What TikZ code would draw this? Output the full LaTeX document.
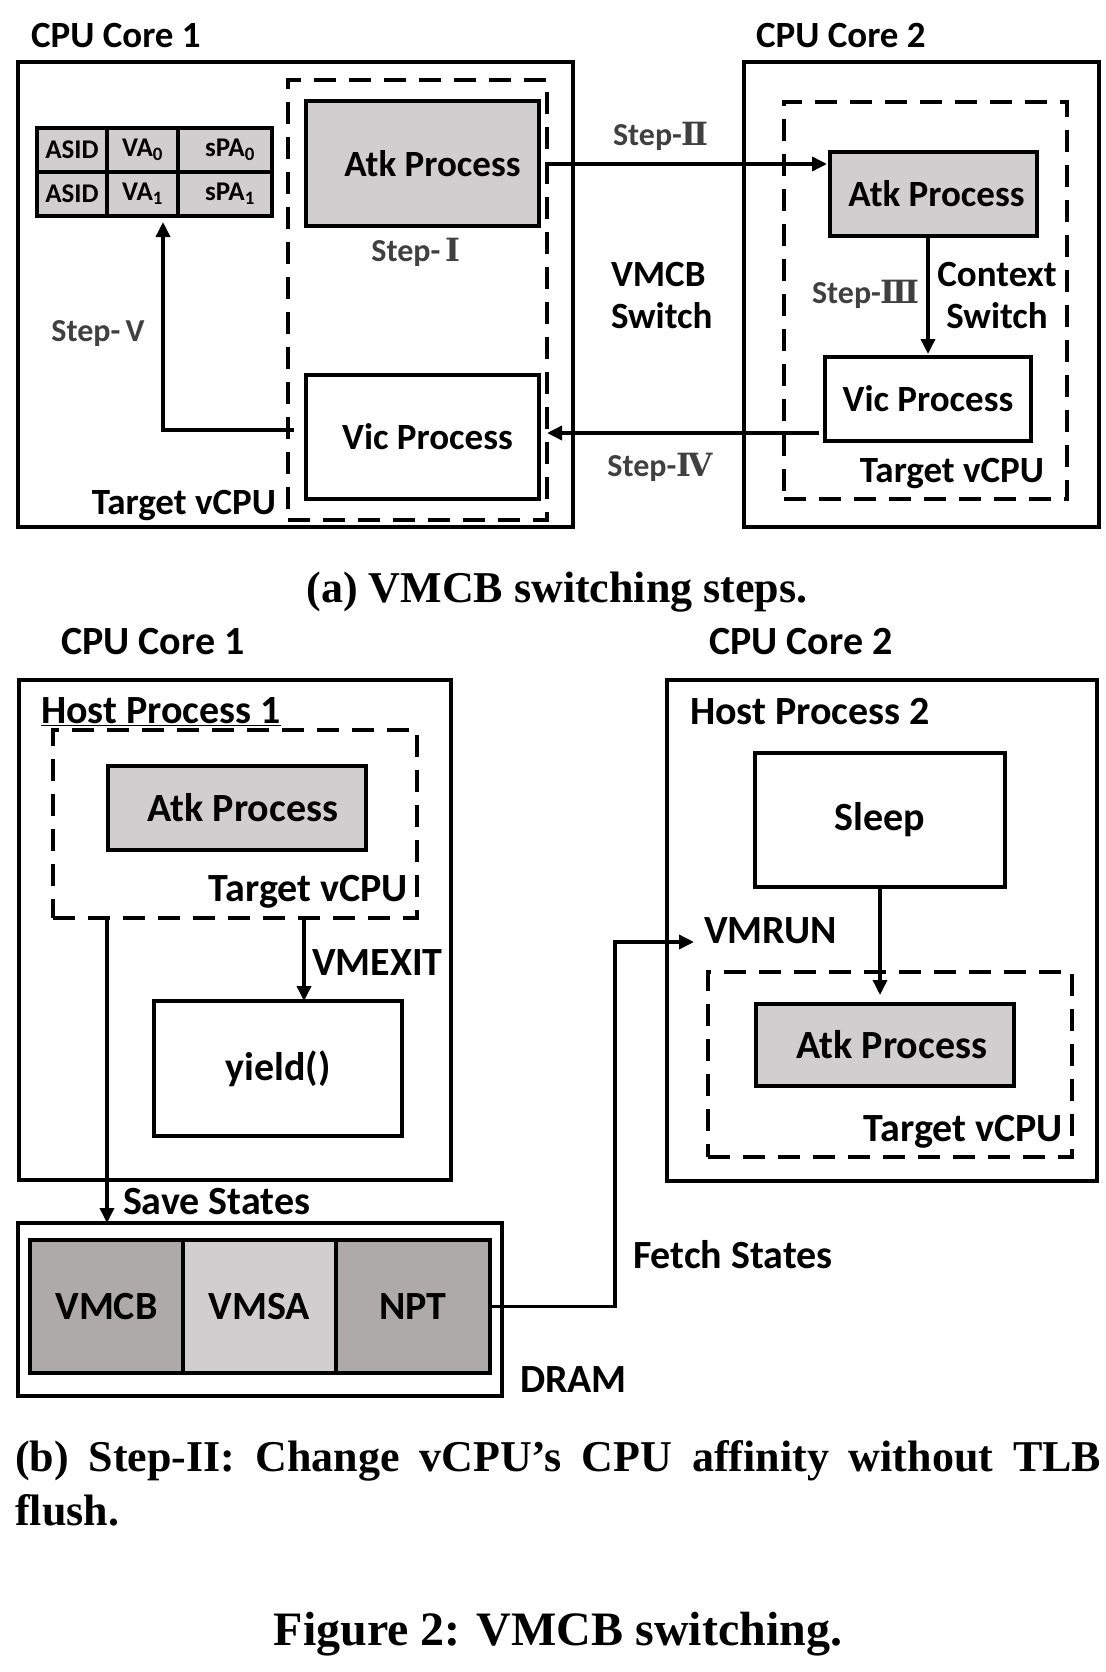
\documentclass[tikz,border=0pt]{standalone}
\usepackage{fontspec}
\usetikzlibrary{arrows.meta}
\newfontfamily\calfont{Carlito}
\newfontfamily\capfont{Liberation Serif}
\newfontfamily\romfont{DejaVu Serif}
\definecolor{lgray}{HTML}{D0CECE}
\definecolor{dgray}{HTML}{AEAAAA}
\definecolor{stepgray}{HTML}{404040}
\newcommand\szA{\fontsize{37}{42}\selectfont}
\newcommand\szB{\fontsize{40}{44}\selectfont}
\newcommand\szT{\fontsize{27}{30}\selectfont}
\newcommand\szS{\fontsize{32}{36}\selectfont}
\newcommand\bx[6][]{\node[box,#1,minimum width={#5-#3},minimum height={#6-#4}] (#2) at ({(#3+#5)/2},{(#4+#6)/2})}
\begin{document}
\begin{tikzpicture}[x=1pt,y=-1pt,
  box/.style={draw, line width=4pt, inner sep=0pt, outer sep=0pt, font=\calfont\bfseries\szA},
  dbox/.style={dash pattern=on 22pt off 13pt},
  lbl/.style={inner sep=0pt, outer sep=0pt, font=\calfont\bfseries\szA},
  lblB/.style={lbl, font=\calfont\bfseries\szB},
  stp/.style={inner sep=0pt, text=stepgray, font=\calfont\bfseries\szS},
  arr/.style={line width=3.5pt, -{Triangle[length=15pt,width=14pt]}},
  captext/.style={inner sep=0pt, font=\capfont\bfseries\fontsize{44}{54}\selectfont}]
\useasboundingbox[fill=white] (0,0) rectangle (1105,1672);

% ---------------- (a) ----------------
\node[lbl, anchor=base west] (tcA1) at (31,48) {CPU Core 1};
\node[lbl, anchor=base west] (tcA2) at (756,48) {CPU Core 2};

\bx{coreA1}{18}{62}{573}{527} {};
\bx[dbox]{vcpuA1}{288}{80}{547}{520} {};
\bx[fill=lgray]{atkA1}{306}{101}{539}{226} {\hspace*{20pt}Atk Process};
\bx{vicA1}{306}{375}{539}{499} {\hspace*{10pt}Vic Process};

\bx[fill=lgray,font=\calfont\bfseries\szT]{tlb11}{37}{128}{107}{172} {ASID};
\bx[fill=lgray,font=\calfont\bfseries\szT]{tlb12}{107}{128}{178}{172} {VA\textsubscript{0}};
\bx[fill=lgray,font=\calfont\bfseries\szT]{tlb13}{178}{128}{272}{172} {\hspace*{10pt}sPA\textsubscript{0}};
\bx[fill=lgray,font=\calfont\bfseries\szT]{tlb21}{37}{172}{107}{216} {ASID};
\bx[fill=lgray,font=\calfont\bfseries\szT]{tlb22}{107}{172}{178}{216} {VA\textsubscript{1}};
\bx[fill=lgray,font=\calfont\bfseries\szT]{tlb23}{178}{172}{272}{216} {\hspace*{10pt}sPA\textsubscript{1}};

\bx{coreA2}{744}{62}{1099}{527} {};
\bx[dbox]{vcpuA2}{784}{102}{1067}{499} {};
\bx[fill=lgray]{atkA2}{830}{152}{1037}{236} {\hspace*{6pt}Atk Process};
\bx{vicA2}{825}{357}{1031}{441} {Vic Process};

\node[stp] (s1l) at (416,252) {Step-\,{\romfont Ⅰ}};
\node[stp] (s2l) at (661,136) {Step-{\romfont Ⅱ}};
\node[stp] (s3l) at (866,294) {Step-{\romfont Ⅲ}};
\node[stp] (s4l) at (660,467) {Step-{\romfont Ⅳ}};
\node[stp] (s5l) at (98,334) {Step-\,V};
\node[lbl, anchor=west, align=left] (vmsw) at (611,296) {VMCB\\Switch};
\node[lbl, align=center] (ctxsw) at (997,296) {Context\\Switch};
\node[lbl, anchor=base east] (tvA1) at (276,514) {Target vCPU};
\node[lbl, anchor=base] (tvA2) at (952,482) {Target vCPU};

\coordinate (s2a) at (547,164);
\draw[arr, shorten >=3pt] (s2a) -- (s2a -| atkA2.west);
\coordinate (s4a) at (819,433);
\coordinate (s4b) at (547,433);
\draw[arr] (s4a) -- (s4b);
\draw[arr, shorten >=3pt] (atkA2.south -| vicA2.north) -- (vicA2.north);
\coordinate (s5a) at (294,430);
\coordinate (s5b) at (163,222);
\draw[arr] (s5a) -| (s5b);

\node[captext, anchor=base] (capA) at (557,602) {(a) VMCB switching steps.};

% ---------------- (b) ----------------
\node[lblB, anchor=base west] (tcB1) at (61,654) {CPU Core 1};
\node[lblB, anchor=base west] (tcB2) at (709,654) {CPU Core 2};

\bx{coreB1}{19}{680}{451}{1180} {};
\node[lblB, anchor=base west] (hp1) at (41,723) {\underline{Host Process 1}};
\bx[dbox]{vcpuB1}{53}{730}{417}{918} {};
\bx[fill=lgray,font=\calfont\bfseries\szB]{atkB1}{108}{766}{366}{850} {\hspace*{12pt}Atk Process};
\node[lblB, anchor=base east] (tvB1) at (408,901) {Target vCPU};
\bx[font=\calfont\bfseries\szB]{yieldB}{154}{1001}{402}{1136} {yield()};

\bx{dramB}{18}{1223}{502}{1396} {};
\bx[fill=dgray,font=\calfont\bfseries\szB]{vmcbB}{30}{1240}{183}{1373} {VMCB};
\bx[fill=lgray,font=\calfont\bfseries\szB]{vmsaB}{183}{1240}{336}{1373} {VMSA};
\bx[fill=dgray,font=\calfont\bfseries\szB]{nptB}{336}{1240}{490}{1373} {NPT};
\node[lblB, anchor=base west] (dramL) at (520,1392) {DRAM};

\bx{coreB2}{667}{680}{1097}{1181} {};
\node[lblB, anchor=base west] (hp2) at (690,724) {Host Process 2};
\bx[font=\calfont\bfseries\szB]{sleepB}{755}{753}{1005}{887} {Sleep};
\bx[dbox]{vcpuB2}{708}{972}{1072}{1157} {};
\bx[fill=lgray,font=\calfont\bfseries\szB]{atkB2}{756}{1004}{1014}{1086} {\hspace*{14pt}Atk Process};
\node[lblB, anchor=base east] (tvB2) at (1063,1141) {Target vCPU};

\node[lblB, anchor=base west] (vmexitL) at (312,975) {VMEXIT};
\node[lblB, anchor=base west] (saveL) at (123,1214) {Save States};
\node[lblB, anchor=base west] (fetchL) at (633,1268) {Fetch States};
\node[lblB, anchor=base west] (vmrunL) at (704,943) {VMRUN};

\coordinate (vmx) at (304,918);
\draw[arr] (vmx) -- (vmx |- yieldB.north);
\coordinate (sv) at (107,919);
\draw[arr] (sv) -- (sv |- dramB.north);
\draw[arr, shorten >=9pt] (sleepB.south) -- (sleepB.south |- atkB2.north);
\coordinate (fc) at (615,942);
\coordinate (vmr) at (694,942);
\draw[arr] (nptB.east) -| (fc) -- (vmr);

\node[captext, anchor=base west, text width=1086pt, align=justify] (capB) at (15,1471) {(b) Step-II: Change vCPU’s CPU affinity without TLB\linebreak flush.};
\node[captext, anchor=base, font=\capfont\bfseries\fontsize{48}{54}\selectfont] (capF) at (558,1645) {Figure 2: VMCB switching.};
\end{tikzpicture}
\end{document}
